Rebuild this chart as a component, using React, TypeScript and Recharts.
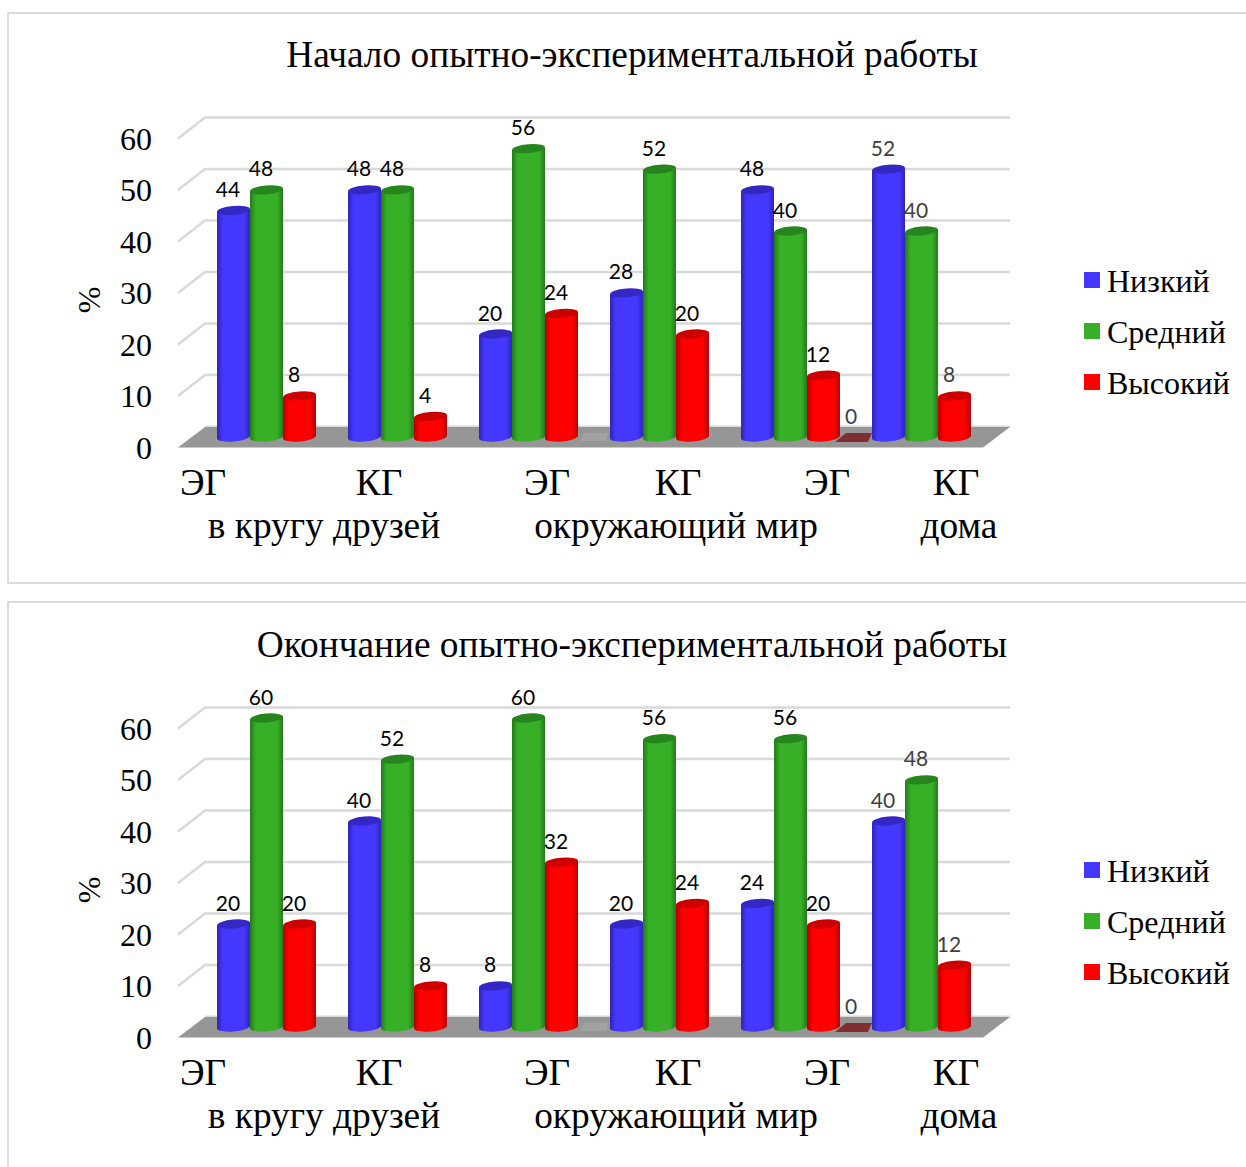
import React from 'react';
import { BarChart, Bar, XAxis, YAxis, CartesianGrid, Legend, LabelList, Label } from 'recharts';

const groups = ['ЭГ', 'КГ', 'ЭГ', 'КГ', 'ЭГ', 'КГ'];
const areas = ['в кругу друзей', 'окружающий мир', 'дома'];
const yTicks = [0, 10, 20, 30, 40, 50, 60];

const startLow = [44, 48, 20, 28, 48, 52];
const startMid = [48, 48, 56, 52, 40, 40];
const startHigh = [8, 4, 24, 20, 12, 8];

const endLow = [20, 40, 8, 20, 24, 40];
const endMid = [60, 52, 60, 56, 56, 48];
const endHigh = [20, 8, 32, 24, 20, 12];

// empty slots between groups: flat bars at zero in both charts,
// only the one after the fifth group is labelled
const zeroSlot = [null, null, 0, null, 0, null];
const zeroLabel = [null, null, null, null, 0, null];

// labels in the original are not centred under their groups
const groupNudge = [-79.5, -34.5, 2.5, 2.5, 20.5, 18.5];
const areaNudge = [41.5, 131.5, 152.5];

const SERIF = '"Liberation Serif", serif';

const tilt = -5;

const colors = {
  low: { main: '#4438ff', edge: '#2f25b5', top: '#3428c4' },
  mid: { main: '#37b027', edge: '#237a1a', top: '#26851c' },
  high: { main: '#ff0000', edge: '#b40000', top: '#cc0000' },
};

const Cylinder = (props: any) => {
  const { x, y, height, value, id, payload } = props;
  if (value == null) return null;
  if (value === 0) {
    // the unlabelled slot is barely visible on the floor
    if (payload?.zeroLabel == null) {
      const faint = [[x + 2, y + 4], [x + 6, y - 4], [x + 30, y - 4], [x + 28, y + 4]];
      return <polygon points={faint.map((p) => p.join(',')).join(' ')} fill="#a2a2a2" />;
    }
    const pts = [[x - 5, y + 5], [x + 6, y - 4], [x + 32, y - 4], [x + 28, y + 5]];
    return <polygon points={pts.map((p) => p.join(',')).join(' ')} fill="#7f2f2f" />;
  }
  const w = 33;
  const rx = w / 2;
  const ry = 4.4;
  const lift = 1.4;
  const base = y + height;
  const d = `M ${x} ${y + lift} L ${x} ${base + lift} A ${rx} ${ry} ${tilt} 0 0 ${x + w} ${base - lift} L ${x + w} ${y - lift} Z`;
  return (
    <g>
      <path d={d} fill={`url(#${id})`} />
      <ellipse
        cx={x + rx}
        cy={y}
        rx={rx}
        ry={ry}
        fill={props.topColor}
        transform={`rotate(${tilt} ${x + rx} ${y})`}
      />
    </g>
  );
};

const ValueLabel = (props: any) => {
  const { x, y, width, value, index } = props;
  if (value == null) return null;
  const grey = index === 5 || value === 0;
  return (
    <text
      x={x + width / 2 - 5}
      y={y - 13.5}
      textAnchor="middle"
      fontFamily="Lato"
      fontSize={21}
      fill={grey ? '#404040' : '#000'}
    >
      {value}
    </text>
  );
};

const GridLine = (props: any) => {
  const { x1, x2, y1 } = props;
  const floor = y1 > 400;
  const left = x1 - 39;
  const back = x1 - 12;
  const right = x2 + 7;
  if (floor) {
    return (
      <g>
        <line x1={back} x2={right} y1={y1 - 10.5} y2={y1 - 10.5} stroke="#d9d9d9" strokeWidth={2} />
        <polygon
          points={`${left},${y1 + 10.5} ${back},${y1 - 10} ${right},${y1 - 10} ${right - 27},${y1 + 10.5}`}
          fill="#969696"
        />
      </g>
    );
  }
  return (
    <polyline
      points={`${left},${y1 + 10.5} ${back},${y1 - 10.5} ${right},${y1 - 10.5}`}
      fill="none"
      stroke="#d9d9d9"
      strokeWidth={2.5}
    />
  );
};

const YTick = ({ y, payload }: any) => (
  <text x={144} y={y + 21.5} textAnchor="end" fontFamily={SERIF} fontSize={32} fill="#000">
    {payload.value}
  </text>
);

const XTick = ({ x, y, payload, index }: any) => (
  <g fontFamily={SERIF} fill="#000">
    <text x={x + groupNudge[index]} y={y + 58} textAnchor="middle" fontSize={37.33}>
      {payload.value}
    </text>
    {index % 2 === 0 && (
      <text x={x + areaNudge[index / 2]} y={y + 101} textAnchor="middle" fontSize={37.33}>
        {areas[index / 2]}
      </text>
    )}
  </g>
);

const LegendRows = ({ payload }: any) => (
  <div style={{ position: 'relative', height: 160 }}>
    {(payload || [])
      .filter((item: any) => item.type !== 'none')
      .map((item: any, i: number) => (
        <div key={item.value} style={{ position: 'absolute', left: 81, top: i * 51, whiteSpace: 'nowrap', lineHeight: '36px' }}>
          <span style={{ position: 'absolute', left: 0, top: 9, width: 16, height: 16, background: item.color }} />
          <span style={{ position: 'absolute', left: 23, top: 0, fontFamily: SERIF, fontSize: 32, color: '#000' }}>{item.value}</span>
        </div>
      ))}
  </div>
);

const Panel = ({ uid, title, low, mid, high, top }: any) => {
  const rows = groups.map((g, i) => ({
    g,
    low: low[i],
    mid: mid[i],
    high: high[i],
    zero: zeroSlot[i],
    zeroLabel: zeroLabel[i],
  }));
  const series = [
    { key: 'low', name: 'Низкий', c: colors.low },
    { key: 'mid', name: 'Средний', c: colors.mid },
    { key: 'high', name: 'Высокий', c: colors.high },
  ];
  return (
    <div style={{ position: 'absolute', left: 0, top, width: 1238, height: 570 }}>
      <div
        style={{
          position: 'absolute',
          left: 0,
          top: 18,
          paddingLeft: 10,
          width: 1228,
          textAlign: 'center',
          fontFamily: SERIF,
          fontSize: 37.33,
          lineHeight: '48px',
          color: '#000',
          zIndex: 2,
        }}
      >
        {title}
      </div>
      <BarChart
        width={1238}
        height={570}
        data={rows}
        margin={{ top: 115, right: 0, bottom: 0, left: 0 }}
        barCategoryGap={0}
        barGap={1}
      >
        <defs>
          {series.map((s) => (
            <linearGradient key={s.key} id={`${uid}-${s.key}`} x1="0" y1="0" x2="1" y2="0">
              <stop offset="0" stopColor={s.c.edge} />
              <stop offset="0.18" stopColor={s.c.main} />
              <stop offset="0.82" stopColor={s.c.main} />
              <stop offset="1" stopColor={s.c.edge} />
            </linearGradient>
          ))}
        </defs>
        <CartesianGrid horizontal={GridLine as any} vertical={false} />
        <XAxis dataKey="g" height={146} axisLine={false} tickLine={false} tickSize={0} tickMargin={0} interval={0} tick={XTick as any} />
        <YAxis
          width={209}
          domain={[0, 60]}
          ticks={yTicks}
          interval={0}
          axisLine={false}
          tickLine={false}
          tick={YTick as any}
        >
          <Label
            content={() => (
              <text transform="translate(92 287) rotate(-90)" textAnchor="middle" fontFamily={SERIF} fontSize={32} fill="#000">
                %
              </text>
            )}
          />
        </YAxis>
        <Legend
          layout="vertical"
          align="right"
          verticalAlign="top"
          width={243}
          wrapperStyle={{ top: 250 }}
          itemSorter={null}
          content={LegendRows as any}
        />
        {series.map((s) => (
          <Bar
            key={s.key}
            dataKey={s.key}
            name={s.name}
            fill={s.c.main}
            isAnimationActive={false}
            shape={(p: any) => <Cylinder {...p} id={`${uid}-${s.key}`} topColor={s.c.top} />}
          >
            <LabelList dataKey={s.key} content={ValueLabel as any} />
          </Bar>
        ))}
        <Bar
          dataKey="zero"
          legendType="none"
          fill="#7f2f2f"
          isAnimationActive={false}
          shape={(p: any) => <Cylinder {...p} id="none" />}
        >
          <LabelList dataKey="zeroLabel" content={ValueLabel as any} />
        </Bar>
      </BarChart>
    </div>
  );
};

const boxStyle: React.CSSProperties = {
  position: 'absolute',
  left: 7,
  width: 1250,
  border: '2px solid #dcdcdc',
  boxSizing: 'border-box',
};

export default function App() {
  return (
    <div style={{ position: 'absolute', left: 0, top: 0, width: 1246, height: 1167, overflow: 'hidden' }}>
      <div style={{ ...boxStyle, top: 12, height: 572 }} />
      <div style={{ ...boxStyle, top: 601, height: 600 }} />
      <div style={{ position: 'absolute', left: 8, top: 8 }}>
        <Panel uid="start" title="Начало опытно-экспериментальной работы" low={startLow} mid={startMid} high={startHigh} top={5} />
        <Panel uid="end" title="Окончание опытно-экспериментальной работы" low={endLow} mid={endMid} high={endHigh} top={595} />
      </div>
    </div>
  );
}
